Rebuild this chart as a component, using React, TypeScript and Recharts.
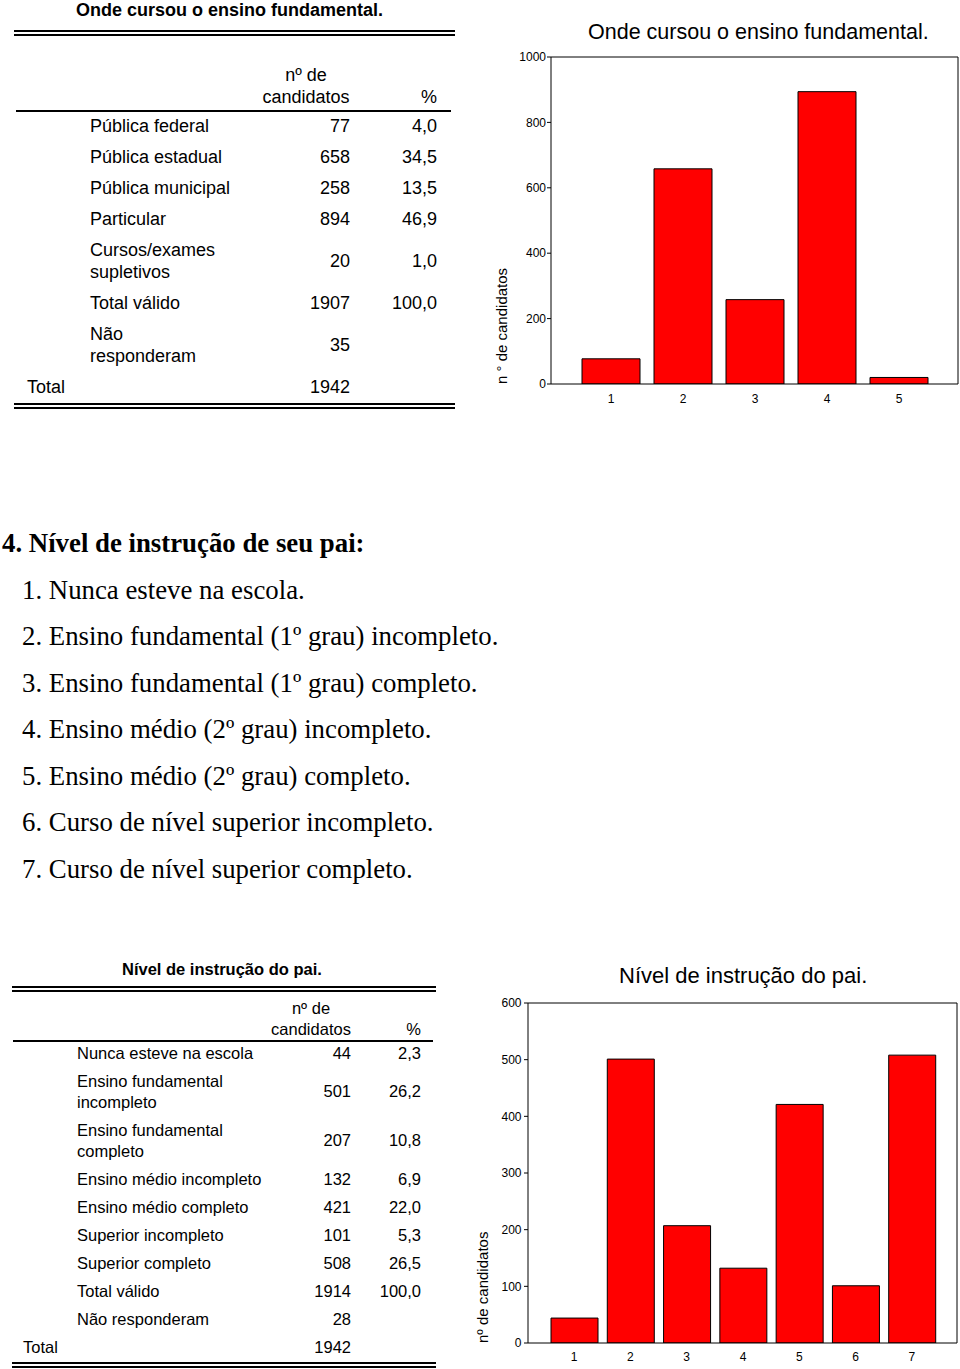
import React from 'react';
import { BarChart, Bar, XAxis, YAxis, Label } from 'recharts';

// ---------- Data ----------
const chart1Title = 'Onde cursou o ensino fundamental.';
const chart1Categories = ['1', '2', '3', '4', '5'];
const chart1Values = [77, 658, 258, 894, 20];
const chart1Ticks = [0, 200, 400, 600, 800, 1000];
const chart1YLabel = 'n ° de candidatos';

const chart2Title = 'Nível de instrução do pai.';
const chart2Categories = ['1', '2', '3', '4', '5', '6', '7'];
const chart2Values = [44, 501, 207, 132, 421, 101, 508];
const chart2Ticks = [0, 100, 200, 300, 400, 500, 600];
const chart2YLabel = 'nº de candidatos';

const table1Title = 'Onde cursou o ensino fundamental.';
const table1Labels = [
  'Pública federal',
  'Pública estadual',
  'Pública municipal',
  'Particular',
  'Cursos/exames\nsupletivos',
  'Total válido',
  'Não\nresponderam',
  'Total',
];
const table1Counts = ['77', '658', '258', '894', '20', '1907', '35', '1942'];
const table1Pcts = ['4,0', '34,5', '13,5', '46,9', '1,0', '100,0', '', ''];

const table2Title = 'Nível de instrução do pai.';
const table2Labels = [
  'Nunca esteve na escola',
  'Ensino fundamental\nincompleto',
  'Ensino fundamental\ncompleto',
  'Ensino médio incompleto',
  'Ensino médio completo',
  'Superior incompleto',
  'Superior completo',
  'Total válido',
  'Não responderam',
  'Total',
];
const table2Counts = ['44', '501', '207', '132', '421', '101', '508', '1914', '28', '1942'];
const table2Pcts = ['2,3', '26,2', '10,8', '6,9', '22,0', '5,3', '26,5', '100,0', '', ''];

const headerLine1 = 'nº de';
const headerLine2 = 'candidatos';
const headerPct = '%';

const questionHeading = '4. Nível de instrução de seu pai:';
const questionItems = [
  '1. Nunca esteve na escola.',
  '2. Ensino fundamental (1º grau) incompleto.',
  '3. Ensino fundamental (1º grau) completo.',
  '4. Ensino médio (2º grau) incompleto.',
  '5. Ensino médio (2º grau) completo.',
  '6. Curso de nível superior incompleto.',
  '7. Curso de nível superior completo.',
];

const SANS = '"Liberation Sans", Arial, Helvetica, sans-serif';
const SERIF = '"Liberation Serif", "Times New Roman", serif';

// ---------- Table ----------
type TableCfg = {
  titleY: number; titleLeft: number; titleSize: number;
  dblTop: number; lineLeft: number; lineRight: number;
  hdr1Y: number; hdr2Y: number; candLeft: number; candWidth: number;
  hdrLineTop: number; hdrLineLeft: number; hdrLineRight: number;
  rowsTop: number; singleH: number; doubleH: number; lineH: number;
  labelX: number; totalX: number; countRight: number; pctRight: number;
  fontSize: number; bottomTop: number;
};

function DoubleLine({ top, left, right }: { top: number; left: number; right: number }) {
  return (
    <div
      style={{
        position: 'absolute', top, left, width: right - left, height: 2,
        borderTop: '2px solid #000', borderBottom: '2px solid #000',
      }}
    />
  );
}

function FreqTable({ title, labels, counts, pcts, c }: {
  title: string; labels: string[]; counts: string[]; pcts: string[]; c: TableCfg;
}) {
  let y = c.rowsTop;
  const rows = labels.map((lab, i) => {
    const h = lab.includes('\n') ? c.doubleH : c.singleH;
    const top = y;
    y += h;
    const isTotal = i === labels.length - 1;
    const cell: React.CSSProperties = {
      position: 'absolute', top, height: h, display: 'flex', alignItems: 'center',
      whiteSpace: 'pre-line', lineHeight: `${c.lineH}px`,
    };
    return (
      <React.Fragment key={i}>
        <div style={{ ...cell, left: isTotal ? c.totalX : c.labelX }}>{lab}</div>
        <div style={{ ...cell, left: 0, width: c.countRight, justifyContent: 'flex-end' }}>{counts[i]}</div>
        {pcts[i] ? (
          <div style={{ ...cell, left: 0, width: c.pctRight, justifyContent: 'flex-end' }}>{pcts[i]}</div>
        ) : null}
      </React.Fragment>
    );
  });
  return (
    <div style={{ fontFamily: SANS, fontSize: c.fontSize, color: '#000' }}>
      <div
        style={{
          position: 'absolute', left: c.titleLeft, top: c.titleY - 12, height: 24,
          lineHeight: '24px', fontSize: c.titleSize, fontWeight: 'bold', whiteSpace: 'nowrap',
        }}
      >
        {title}
      </div>
      <DoubleLine top={c.dblTop} left={c.lineLeft} right={c.lineRight} />
      <div style={{ position: 'absolute', left: c.candLeft, width: c.candWidth, top: c.hdr1Y - 11, height: 22, lineHeight: '22px', textAlign: 'center', whiteSpace: 'nowrap' }}>{headerLine1}</div>
      <div style={{ position: 'absolute', left: c.candLeft, width: c.candWidth, top: c.hdr2Y - 11, height: 22, lineHeight: '22px', textAlign: 'center', whiteSpace: 'nowrap' }}>{headerLine2}</div>
      <div style={{ position: 'absolute', left: 0, width: c.pctRight, top: c.hdr2Y - 11, height: 22, lineHeight: '22px', textAlign: 'right' }}>{headerPct}</div>
      <div style={{ position: 'absolute', left: c.hdrLineLeft, width: c.hdrLineRight - c.hdrLineLeft, top: c.hdrLineTop, height: 2, background: '#000' }} />
      {rows}
      <DoubleLine top={c.bottomTop} left={c.lineLeft} right={c.lineRight} />
    </div>
  );
}

const table1Cfg: TableCfg = {
  titleY: 10, titleLeft: 76, titleSize: 18,
  dblTop: 30, lineLeft: 14, lineRight: 455,
  hdr1Y: 75, hdr2Y: 97, candLeft: 262, candWidth: 88,
  hdrLineTop: 110, hdrLineLeft: 16, hdrLineRight: 451,
  rowsTop: 110, singleH: 31, doubleH: 53, lineH: 22,
  labelX: 90, totalX: 27, countRight: 350, pctRight: 437,
  fontSize: 18, bottomTop: 403,
};

const table2Cfg: TableCfg = {
  titleY: 969, titleLeft: 122, titleSize: 16.5,
  dblTop: 986, lineLeft: 12, lineRight: 436,
  hdr1Y: 1008, hdr2Y: 1029, candLeft: 271, candWidth: 80,
  hdrLineTop: 1040, hdrLineLeft: 13, hdrLineRight: 433,
  rowsTop: 1039, singleH: 28.1, doubleH: 49, lineH: 20.5,
  labelX: 77, totalX: 23, countRight: 351, pctRight: 421,
  fontSize: 16.5, bottomTop: 1362,
};

// ---------- Chart ----------
type ChartCfg = {
  left: number; top: number; width: number; height: number;
  margin: { top: number; right: number; bottom: number; left: number };
  xHeight: number; padL: number; padR: number; barSize: number;
  yTickMargin: number; xTickMargin: number; labelDx: number;
  titleLeft: number; titleY: number; titleSize: number;
};

function FreqChart({ title, categories, values, ticks, yLabel, c }: {
  title: string; categories: string[]; values: number[]; ticks: number[]; yLabel: string; c: ChartCfg;
}) {
  const data = categories.map((cat, i) => ({ cat, value: values[i] }));
  const domain: [number, number] = [ticks[0], ticks[ticks.length - 1]];
  const tickStyle = { fontSize: 12, fill: '#000', fontFamily: SANS };
  return (
    <>
      <div
        style={{
          position: 'absolute', left: c.titleLeft, top: c.titleY - 13, height: 26, lineHeight: '26px',
          fontFamily: SANS, fontSize: c.titleSize, whiteSpace: 'nowrap', color: '#000',
        }}
      >
        {title}
      </div>
      <div style={{ position: 'absolute', left: c.left, top: c.top, width: c.width, height: c.height, fontFamily: SANS }}>
        <BarChart width={c.width} height={c.height} data={data} margin={c.margin}>
          <XAxis
            dataKey="cat"
            interval={0}
            tickLine={false}
            tickSize={4}
            tickMargin={c.xTickMargin}
            height={c.xHeight}
            padding={{ left: c.padL, right: c.padR }}
            axisLine={{ stroke: '#000', strokeWidth: 1 }}
            tick={tickStyle}
          />
          <XAxis
            xAxisId="top"
            orientation="top"
            dataKey="cat"
            tick={false}
            tickLine={false}
            height={1}
            axisLine={{ stroke: '#000', strokeWidth: 1 }}
          />
          <YAxis
            domain={domain}
            ticks={ticks}
            interval={0}
            width={40}
            tickSize={4}
            tickMargin={c.yTickMargin}
            axisLine={{ stroke: '#000', strokeWidth: 1 }}
            tickLine={{ stroke: '#000', strokeWidth: 1 }}
            tick={tickStyle}
            allowDataOverflow
          >
            <Label
              content={(props: any) => {
                const vb = props.viewBox || {};
                const x = (vb.x ?? 0) + c.labelDx;
                const y = (vb.y ?? 0) + (vb.height ?? 0);
                return (
                  <text
                    x={x}
                    y={y}
                    transform={`rotate(-90 ${x} ${y})`}
                    textAnchor="start"
                    dominantBaseline="central"
                    fontSize={15}
                    fontFamily={SANS}
                    fill="#000"
                  >
                    {yLabel}
                  </text>
                );
              }}
            />
          </YAxis>
          <YAxis
            yAxisId="right"
            orientation="right"
            domain={domain}
            tick={false}
            tickLine={false}
            width={1}
            axisLine={{ stroke: '#000', strokeWidth: 1 }}
          />
          <Bar
            dataKey="value"
            fill="#FF0000"
            stroke="#000"
            strokeWidth={1}
            barSize={c.barSize}
            isAnimationActive={false}
          />
        </BarChart>
      </div>
    </>
  );
}

const chart1Cfg: ChartCfg = {
  left: 470, top: 45, width: 490, height: 370,
  margin: { top: 11, right: 1, bottom: 1, left: 41 },
  xHeight: 30, padL: 24, padR: 23, barSize: 58,
  yTickMargin: 1, xTickMargin: 6, labelDx: -10,
  titleLeft: 588, titleY: 32, titleSize: 21.5,
};

const chart2Cfg: ChartCfg = {
  left: 460, top: 990, width: 500, height: 379,
  margin: { top: 12, right: 2, bottom: 1, left: 28 },
  xHeight: 25, padL: 18, padR: 17, barSize: 47,
  yTickMargin: 2.5, xTickMargin: 5.5, labelDx: -6,
  titleLeft: 619, titleY: 976, titleSize: 22,
};

// ---------- Page ----------
export default function App() {
  return (
    <div
      style={{
        position: 'absolute', left: 0, top: 0, width: 960, height: 1369,
        overflow: 'hidden', background: '#fff', color: '#000',
      }}
    >
      <FreqTable title={table1Title} labels={table1Labels} counts={table1Counts} pcts={table1Pcts} c={table1Cfg} />
      <FreqChart title={chart1Title} categories={chart1Categories} values={chart1Values} ticks={chart1Ticks} yLabel={chart1YLabel} c={chart1Cfg} />

      <div style={{ position: 'absolute', left: 0, top: 520, fontFamily: SERIF, fontSize: 26.8, lineHeight: '46.5px', whiteSpace: 'nowrap' }}>
        <div style={{ paddingLeft: 2, fontWeight: 'bold' }}>{questionHeading}</div>
        {questionItems.map((t, i) => (
          <div key={i} style={{ paddingLeft: 22 }}>{t}</div>
        ))}
      </div>

      <FreqTable title={table2Title} labels={table2Labels} counts={table2Counts} pcts={table2Pcts} c={table2Cfg} />
      <FreqChart title={chart2Title} categories={chart2Categories} values={chart2Values} ticks={chart2Ticks} yLabel={chart2YLabel} c={chart2Cfg} />
    </div>
  );
}
